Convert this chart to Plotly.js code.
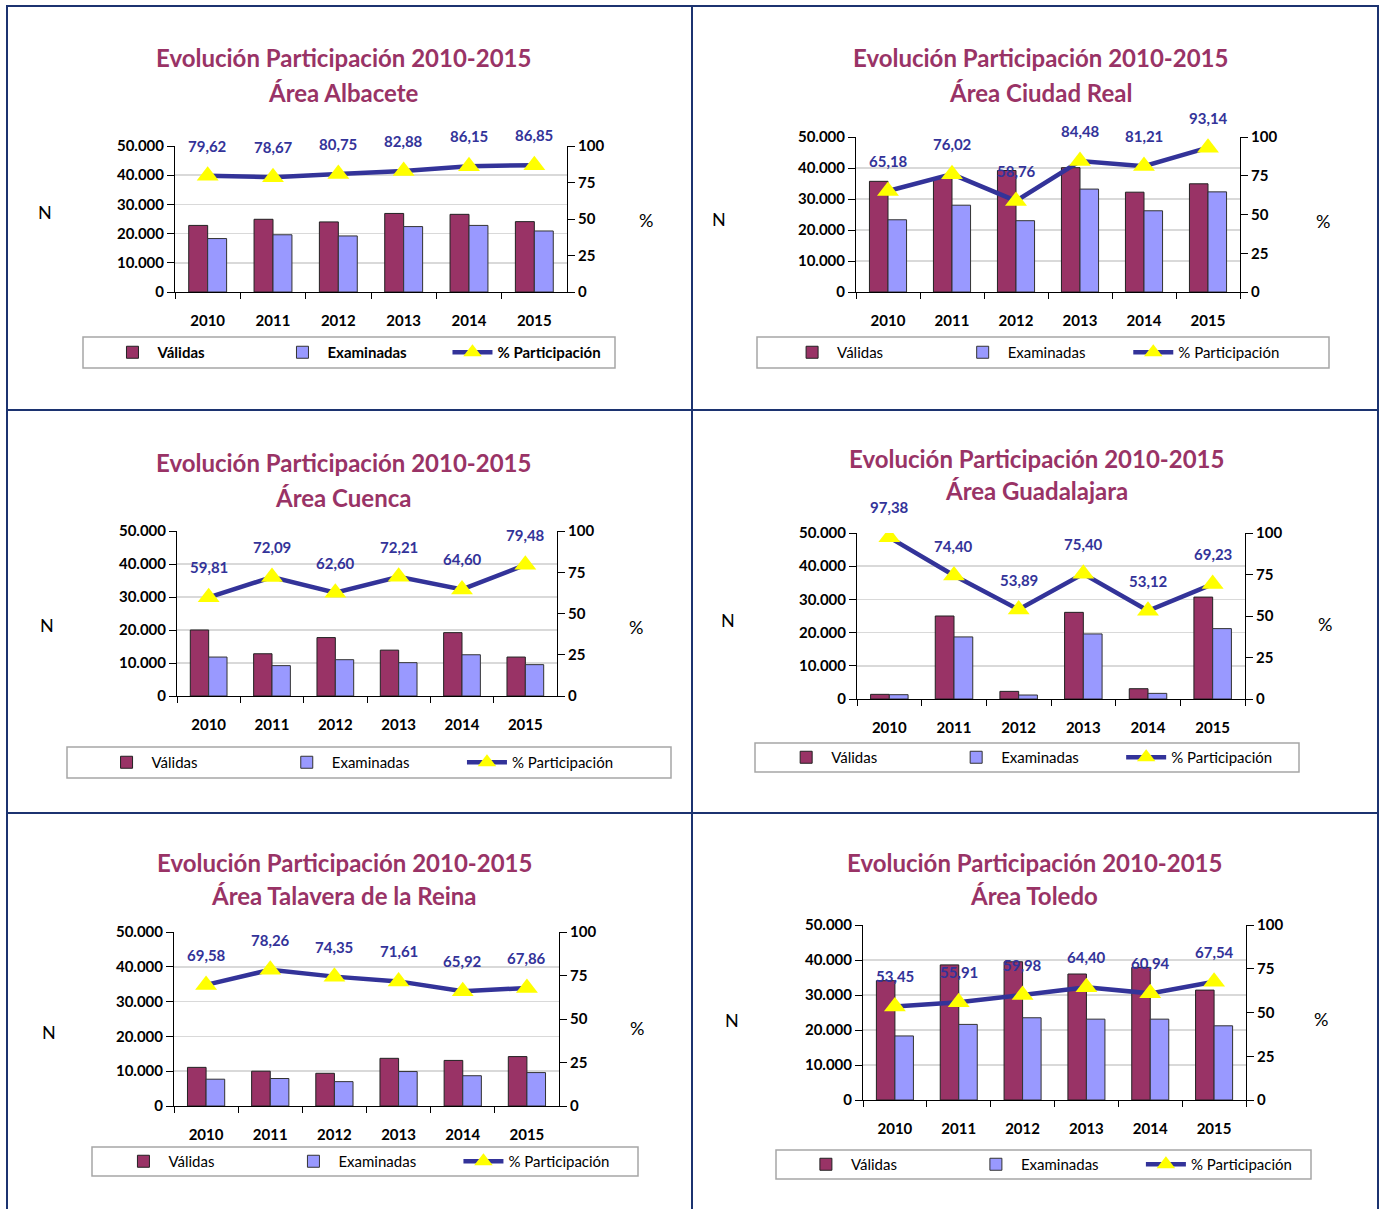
<!DOCTYPE html>
<html>
<head>
<meta charset="utf-8">
<script src="https://cdn.plot.ly/plotly-3.0.1.min.js"></script>
<style>
html,body{margin:0;padding:0;background:#fff;}
#chart{width:1384px;height:1209px;}
</style>
</head>
<body>
<div id="chart"></div>
<script>
// ---------- DATA ----------
const years = ['2010', '2011', '2012', '2013', '2014', '2015'];
const titleLine1 = 'Evolución Participación 2010-2015';
const areaNames = ['Área Albacete', 'Área Ciudad Real', 'Área Cuenca', 'Área Guadalajara', 'Área Talavera de la Reina', 'Área Toledo'];
const seriesNames = ['Válidas', 'Examinadas', '% Participación'];
const yLeftTicks = [0, 10000, 20000, 30000, 40000, 50000];
const yRightTicks = [0, 25, 50, 75, 100];

const validasAlbacete = [22800, 24900, 24000, 26900, 26600, 24100];
const examinadasAlbacete = [18300, 19600, 19200, 22400, 22800, 20900];
const pctAlbacete = [79.62, 78.67, 80.75, 82.88, 86.15, 86.85];

const validasCiudadReal = [35700, 36800, 39200, 40100, 32200, 34900];
const examinadasCiudadReal = [23300, 28000, 23000, 33200, 26200, 32300];
const pctCiudadReal = [65.18, 76.02, 58.76, 84.48, 81.21, 93.14];

const validasCuenca = [20000, 12800, 17700, 13900, 19200, 11800];
const examinadasCuenca = [11800, 9200, 11000, 10100, 12500, 9500];
const pctCuenca = [59.81, 72.09, 62.60, 72.21, 64.60, 79.48];

const validasGuadalajara = [1400, 25000, 2300, 26100, 3100, 30700];
const examinadasGuadalajara = [1300, 18700, 1200, 19600, 1700, 21200];
const pctGuadalajara = [97.38, 74.40, 53.89, 75.40, 53.12, 69.23];

const validasTalavera = [11100, 10000, 9400, 13700, 13100, 14200];
const examinadasTalavera = [7700, 7900, 7000, 9900, 8700, 9600];
const pctTalavera = [69.58, 78.26, 74.35, 71.61, 65.92, 67.86];

const validasToledo = [34100, 38600, 39500, 36000, 37900, 31400];
const examinadasToledo = [18300, 21600, 23500, 23100, 23100, 21200];
const pctToledo = [53.45, 55.91, 59.98, 64.40, 60.94, 67.54];

const allValidas = [validasAlbacete, validasCiudadReal, validasCuenca, validasGuadalajara, validasTalavera, validasToledo];
const allExaminadas = [examinadasAlbacete, examinadasCiudadReal, examinadasCuenca, examinadasGuadalajara, examinadasTalavera, examinadasToledo];
const allPct = [pctAlbacete, pctCiudadReal, pctCuenca, pctGuadalajara, pctTalavera, pctToledo];

// ---------- LAYOUT GEOMETRY (pixels) ----------
const W = 1384, H = 1209;
const boxes = [
  {L:175, R:567, T:146, B:292, t1:57, t2:92, cx:343, lx0:83, lx1:615, ly0:337, ly1:368, nx:45, ny:212, px:646, py:220, boldLeg:true},
  {L:856, R:1240, T:137, B:292, t1:57, t2:92, cx:1040, lx0:757, lx1:1329, ly0:337, ly1:368, nx:719, ny:219, px:1323, py:221, boldLeg:false},
  {L:177, R:557, T:531, B:696, t1:462, t2:497, cx:343, lx0:67, lx1:671, ly0:747, ly1:778, nx:47, ny:625, px:636, py:627, boldLeg:false},
  {L:857, R:1245, T:533, B:699, t1:459, t2:491, cx:1036, lx0:755, lx1:1299, ly0:743, ly1:772, nx:728, ny:620, px:1325, py:624, boldLeg:false},
  {L:174, R:559, T:932, B:1106, t1:862, t2:895, cx:344, lx0:92, lx1:638, ly0:1147, ly1:1176, nx:49, ny:1032, px:637, py:1028, boldLeg:false},
  {L:863, R:1246, T:925, B:1100, t1:862, t2:895, cx:1034, lx0:776, lx1:1311, ly0:1150, ly1:1179, nx:732, ny:1020, px:1321, py:1019, boldLeg:false}
];

const FONT = 'Lato, "Open Sans", sans-serif';
const C_VAL = '#993366', C_EXA = '#9999FF', C_LINE = '#333399', C_TITLE = '#993366', C_BORDER = '#1C3370';

const fx = x => x / W;
const fy = y => 1 - y / H;
const nm = (p, n) => n === 1 ? p : p + n;
const fmtPct = v => v.toFixed(2).replace('.', ',');

const traces = [];
const layout = {
  width: W, height: H,
  margin: {l:0, r:0, t:0, b:0},
  paper_bgcolor: '#fff', plot_bgcolor: 'rgba(0,0,0,0)',
  barmode: 'group', bargap: 0.42, bargroupgap: 0,
  separators: ',.',
  hovermode: false,
  showlegend: true,
  annotations: [],
  shapes: []
};

boxes.forEach((b, i) => {
  const k = i + 1;
  const xa = nm('x', k);
  const yl = nm('y', 2 * k - 1);
  const yr = nm('y', 2 * k);
  const lg = nm('legend', k);

  traces.push({
    type: 'bar', name: seriesNames[0], x: years, y: allValidas[i],
    xaxis: xa, yaxis: yl, legend: lg,
    marker: {color: C_VAL, line: {color: '#222', width: 1}}
  });
  traces.push({
    type: 'bar', name: seriesNames[1], x: years, y: allExaminadas[i],
    xaxis: xa, yaxis: yl, legend: lg,
    marker: {color: C_EXA, line: {color: '#333', width: 1}}
  });
  traces.push({
    type: 'scatter', mode: 'lines+markers', name: seriesNames[2], x: years, y: allPct[i],
    xaxis: xa, yaxis: yr, legend: lg,
    line: {color: C_LINE, width: 4.5},
    marker: {symbol: 'triangle-up', size: 19, color: '#FFFF00', line: {width: 0}}
  });

  const tickFont = {family: FONT, size: 15, color: '#000', weight: 'bold'};
  layout[nm('xaxis', k)] = {
    domain: [fx(b.L), fx(b.R)], anchor: yl, type: 'category', range: [-0.5, 5.5], autorange: false,
    showline: true, linecolor: '#000', linewidth: 1,
    ticks: 'outside', ticklen: 6, tickcolor: '#000', tickson: 'boundaries',
    ticklabelstandoff: 15, tickangle: 0,
    tickfont: tickFont, showgrid: false, fixedrange: true
  };
  layout[nm('yaxis', 2 * k - 1)] = {
    domain: [fy(b.B), fy(b.T)], anchor: xa, range: [0, 50000], autorange: false,
    tickvals: yLeftTicks, tickformat: ',d',
    showline: true, linecolor: '#000', linewidth: 1,
    ticks: 'outside', ticklen: 7, tickcolor: '#000',
    showgrid: true, gridcolor: '#D9D9D9', gridwidth: 1.5, zeroline: false,
    tickfont: tickFont, fixedrange: true
  };
  layout[nm('yaxis', 2 * k)] = {
    domain: [fy(b.B), fy(b.T)], anchor: xa, overlaying: yl, side: 'right', range: [0, 100], autorange: false,
    tickvals: yRightTicks,
    showline: true, linecolor: '#000', linewidth: 1,
    ticks: 'outside', ticklen: 7, tickcolor: '#000',
    showgrid: false, zeroline: false,
    tickfont: tickFont, fixedrange: true
  };

  const lw = b.lx1 - b.lx0;
  layout[lg] = {
    orientation: 'h', x: fx(b.lx0 + 0.14 * lw - 50), y: fy((b.ly0 + b.ly1) / 2),
    xanchor: 'left', yanchor: 'middle', bgcolor: 'rgba(0,0,0,0)', borderwidth: 0,
    font: {family: FONT, size: 15, color: '#000', weight: b.boldLeg ? 'bold' : 'normal'},
    entrywidth: Math.max(115, 0.3 * lw - 56), entrywidthmode: 'pixels', itemwidth: 40,
    traceorder: 'normal', itemclick: false, itemdoubleclick: false
  };

  // legend frame
  layout.shapes.push({type: 'rect', xref: 'paper', yref: 'paper',
    x0: fx(b.lx0), x1: fx(b.lx1), y0: fy(b.ly1), y1: fy(b.ly0),
    line: {color: '#A6A6A6', width: 1.5}, fillcolor: 'rgba(0,0,0,0)', layer: 'below'});

  // titles
  layout.annotations.push({xref: 'paper', yref: 'paper', x: fx(b.cx), y: fy(b.t1), text: titleLine1,
    showarrow: false, xanchor: 'center', yanchor: 'middle',
    font: {family: FONT, size: 24, color: C_TITLE, weight: 'bold'}});
  layout.annotations.push({xref: 'paper', yref: 'paper', x: fx(b.cx), y: fy(b.t2), text: areaNames[i],
    showarrow: false, xanchor: 'center', yanchor: 'middle',
    font: {family: FONT, size: 24, color: C_TITLE, weight: 'bold'}});
  // axis labels
  layout.annotations.push({xref: 'paper', yref: 'paper', x: fx(b.nx), y: fy(b.ny), text: 'N',
    showarrow: false, xanchor: 'center', yanchor: 'middle', font: {family: FONT, size: 18, color: '#000'}});
  layout.annotations.push({xref: 'paper', yref: 'paper', x: fx(b.px), y: fy(b.py), text: '%',
    showarrow: false, xanchor: 'center', yanchor: 'middle', font: {family: FONT, size: 18, color: '#000'}});
  // data labels (category axis annotations use serial index of the category)
  allPct[i].forEach((v, j) => {
    layout.annotations.push({xref: xa, yref: yr, x: years.indexOf(years[j]), y: v, text: fmtPct(v),
      showarrow: false, yshift: 30, xanchor: 'center', yanchor: 'middle',
      font: {family: FONT, size: 15, color: C_LINE, weight: 'bold'}});
  });
});

// grid borders
layout.shapes.push({type: 'rect', xref: 'paper', yref: 'paper', x0: fx(7), x1: fx(1378), y0: fy(1220), y1: fy(6),
  line: {color: C_BORDER, width: 2}, fillcolor: 'rgba(0,0,0,0)', layer: 'below'});
layout.shapes.push({type: 'line', xref: 'paper', yref: 'paper', x0: fx(692), x1: fx(692), y0: fy(1220), y1: fy(6),
  line: {color: C_BORDER, width: 2}, layer: 'below'});
layout.shapes.push({type: 'line', xref: 'paper', yref: 'paper', x0: fx(7), x1: fx(1378), y0: fy(410), y1: fy(410),
  line: {color: C_BORDER, width: 2}, layer: 'below'});
layout.shapes.push({type: 'line', xref: 'paper', yref: 'paper', x0: fx(7), x1: fx(1378), y0: fy(813), y1: fy(813),
  line: {color: C_BORDER, width: 2}, layer: 'below'});

Plotly.newPlot('chart', traces, layout, {displayModeBar: false, staticPlot: true});
</script>
</body>
</html>
